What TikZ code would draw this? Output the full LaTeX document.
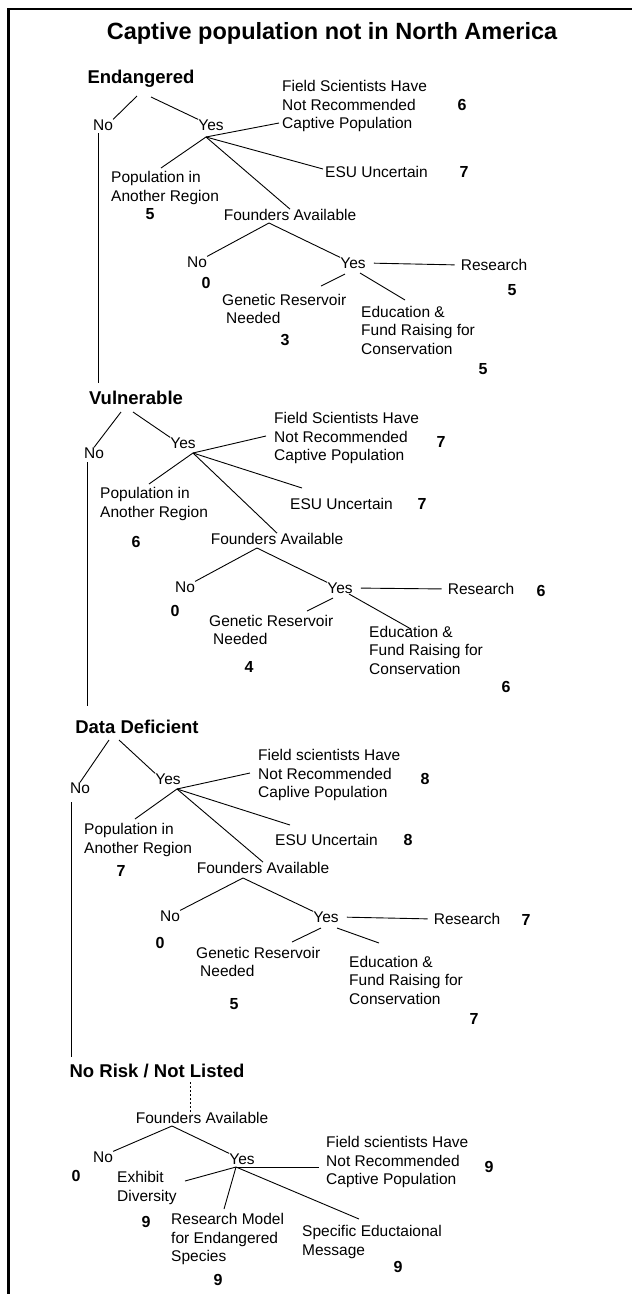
\documentclass[tikz,border=0pt]{standalone}
\usepackage{fontspec}
\setmainfont{Liberation Sans}
\begin{document}
\begin{tikzpicture}[x=1pt,y=-1pt,
  lbl/.style={inner sep=0pt, font=\fontsize{15.5}{18.5}\selectfont, align=left},
  hd/.style={inner sep=0pt, font=\fontsize{18.5}{20}\selectfont\bfseries},
  num/.style={inner sep=0pt, font=\fontsize{16}{18}\selectfont\bfseries},
  ttl/.style={inner sep=0pt, font=\fontsize{23.5}{26}\selectfont\bfseries},
  ln/.style={line width=0.9pt},
  frm/.style={line width=2.6pt}]
\useasboundingbox (0,0) rectangle (632,1294);
\draw[frm] (8.5,1294) -- (8.5,9) -- (632,9);
\node[ttl] (title) at (332,33) {Captive population not in North America};

% ---------------- Endangered
\node[hd] (endg) at (141,79) {Endangered};
\node[lbl] (no1) at (103,125) {No};
\node[lbl] (yes1) at (211,125) {Yes};
\coordinate (endgL) at (137,96);
\coordinate (endgR) at (151,97);
\draw[ln] (endgL) -- (no1.north east);
\draw[ln] (endgR) -- (yes1.north west);
\coordinate (v1a) at (98,133);
\coordinate (v1b) at (98,383);
\draw[ln] (v1a) -- (v1b);
\coordinate (hub1) at (206,137);
\node[lbl,anchor=west] (fsh1) at (282,106) {Field Scientists Have\\Not Recommended\\Captive Population};
\node[num] (n1a) at (462,105) {6};
\coordinate (fsh1e) at (279,123);
\draw[ln] (hub1) -- (fsh1e);
\node[lbl,anchor=west] (esu1) at (325,172) {ESU Uncertain};
\node[num] (n1b) at (464,172) {7};
\coordinate (esu1e) at (323,169);
\draw[ln] (hub1) -- (esu1e);
\node[lbl,anchor=west] (pop1) at (111,188) {Population in\\Another Region};
\node[num] (n1c) at (150,214) {5};
\coordinate (pop1e) at (161,168);
\draw[ln] (hub1) -- (pop1e);
\node[lbl] (fa1) at (290,215) {Founders Available};
\draw[ln] (hub1) -- (fa1.north);
\coordinate (fa1b) at (269,223);
\node[lbl] (no2) at (197,262) {No};
\node[num] (n1d) at (206,283) {0};
\node[lbl] (yes2) at (353,263) {Yes};
\draw[ln] (fa1b) -- (no2.north east);
\draw[ln] (fa1b) -- (yes2.north west);
\node[lbl] (res1) at (494,265) {Research};
\node[num] (n1e) at (512,290) {5};
\draw[ln,shorten <=8pt,shorten >=6pt] (yes2.east) -- (res1.west);
\node[lbl,anchor=west] (gen1) at (222,309) {Genetic Reservoir\\\hspace*{4pt}Needed};
\node[num] (n1f) at (285,340) {3};
\coordinate (y2g) at (345,274);
\coordinate (gen1e) at (321,286);
\draw[ln] (y2g) -- (gen1e);
\node[lbl,anchor=west] (edu1) at (361,330) {Education \&\\Fund Raising for\\Conservation};
\node[num] (n1g) at (483,369) {5};
\coordinate (y2e) at (360,273);
\coordinate (edu1e) at (405,300);
\draw[ln] (y2e) -- (edu1e);

% ---------------- Vulnerable
\node[hd] (vul) at (136,398) {Vulnerable};
\node[lbl] (no3) at (94,453) {No};
\node[lbl] (yes3) at (183,443) {Yes};
\coordinate (vulL) at (121,412);
\coordinate (vulR) at (133,412);
\draw[ln] (vulL) -- (no3.north);
\draw[ln] (vulR) -- (yes3.north west);
\coordinate (v2a) at (87,462);
\coordinate (v2b) at (87,706);
\draw[ln] (v2a) -- (v2b);
\coordinate (hub3) at (193,453);
\node[lbl,anchor=west] (fsh3) at (274,438) {Field Scientists Have\\Not Recommended\\Captive Population};
\node[num] (n2a) at (441,442) {7};
\coordinate (fsh3e) at (266,436);
\draw[ln] (hub3) -- (fsh3e);
\node[lbl,anchor=west] (pop3) at (100,504) {Population in\\Another Region};
\node[num] (n2b) at (136,542) {6};
\coordinate (pop3e) at (149,484);
\draw[ln] (hub3) -- (pop3e);
\node[lbl,anchor=west] (esu3) at (290,504) {ESU Uncertain};
\node[num] (n2c) at (422,504) {7};
\coordinate (esu3e) at (302,488);
\draw[ln] (hub3) -- (esu3e);
\node[lbl] (fa3) at (277,539) {Founders Available};
\draw[ln] (hub3) -- (fa3.north);
\coordinate (fa3b) at (257,548);
\node[lbl] (no4) at (185,587) {No};
\node[num] (n2d) at (175,611) {0};
\node[lbl] (yes4) at (340,588) {Yes};
\draw[ln] (fa3b) -- (no4.north east);
\draw[ln] (fa3b) -- (yes4.north west);
\node[lbl] (res3) at (481,589) {Research};
\node[num] (n2e) at (541,591) {6};
\draw[ln,shorten <=8pt,shorten >=6pt] (yes4.east) -- (res3.west);
\node[lbl,anchor=west] (gen3) at (209,630) {Genetic Reservoir\\\hspace*{4pt}Needed};
\node[num] (n2f) at (249,667) {4};
\coordinate (y4g) at (333,598);
\coordinate (gen3e) at (307,611);
\draw[ln] (y4g) -- (gen3e);
\node[lbl,anchor=west] (edu3) at (369,650) {Education \&\\Fund Raising for\\Conservation};
\node[num] (n2g) at (506,687) {6};
\coordinate (y4e) at (349,594);
\coordinate (edu3e) at (411,629);
\draw[ln] (y4e) -- (edu3e);

% ---------------- Data Deficient
\node[hd] (dd) at (137,727) {Data Deficient};
\node[lbl] (no5) at (80,788) {No};
\node[lbl] (yes5) at (168,779) {Yes};
\coordinate (ddL) at (109,740);
\coordinate (ddR) at (119,740);
\draw[ln] (ddL) -- (no5.north);
\draw[ln] (ddR) -- (yes5.north west);
\coordinate (v3a) at (71,802);
\coordinate (v3b) at (71,1057);
\draw[ln] (v3a) -- (v3b);
\coordinate (hub5) at (177,789);
\node[lbl,anchor=west] (fsh5) at (258,775) {Field scientists Have\\Not Recommended\\Caplive Population};
\node[num] (n3a) at (425,779) {8};
\coordinate (fsh5e) at (250,773);
\draw[ln] (hub5) -- (fsh5e);
\node[lbl,anchor=west] (pop5) at (84,840) {Population in\\Another Region};
\node[num] (n3b) at (121,871) {7};
\coordinate (pop5e) at (135,819);
\draw[ln] (hub5) -- (pop5e);
\node[lbl,anchor=west] (esu5) at (275,840) {ESU Uncertain};
\node[num] (n3c) at (408,840) {8};
\coordinate (esu5e) at (290,825);
\draw[ln] (hub5) -- (esu5e);
\node[lbl] (fa5) at (263,868) {Founders Available};
\draw[ln] (hub5) -- (fa5.north);
\coordinate (fa5b) at (243,878);
\node[lbl] (no6) at (170,916) {No};
\node[num] (n3d) at (160,943) {0};
\node[lbl] (yes6) at (326,917) {Yes};
\draw[ln] (fa5b) -- (no6.north east);
\draw[ln] (fa5b) -- (yes6.north west);
\node[lbl] (res5) at (467,919) {Research};
\node[num] (n3e) at (526,920) {7};
\draw[ln,shorten <=8pt,shorten >=6pt] (yes6.east) -- (res5.west);
\node[lbl,anchor=west] (gen5) at (196,962) {Genetic Reservoir\\\hspace*{4pt}Needed};
\node[num] (n3f) at (234,1004) {5};
\coordinate (y6g) at (321,928);
\coordinate (gen5e) at (292,942);
\draw[ln] (y6g) -- (gen5e);
\node[lbl,anchor=west] (edu5) at (349,980) {Education \&\\Fund Raising for\\Conservation};
\node[num] (n3g) at (474,1019) {7};
\coordinate (y6e) at (337,928);
\coordinate (edu5e) at (379,943);
\draw[ln] (y6e) -- (edu5e);

% ---------------- No Risk / Not Listed
\node[hd] (nr) at (157,1071) {No Risk / Not Listed};
\node[lbl] (fa7) at (202,1118) {Founders Available};
\draw[line width=0.8pt,dash pattern=on 2pt off 2pt] (nr.south -| 190,0) ++(0,4) -- (fa7.north -| 190,0);
\coordinate (fa7b) at (172,1126);
\node[lbl] (no7) at (103,1157) {No};
\node[num] (n4a) at (76,1176) {0};
\node[lbl] (yes7) at (242,1159) {Yes};
\draw[ln] (fa7b) -- (no7.north east);
\draw[ln] (fa7b) -- (yes7.north west);
\coordinate (hub7) at (236,1167);
\node[lbl,anchor=west] (fsh7) at (326,1162) {Field scientists Have\\Not Recommended\\Captive Population};
\node[num] (n4b) at (489,1167) {9};
\coordinate (fsh7e) at (319,1167);
\draw[ln] (hub7) -- (fsh7e);
\node[lbl,anchor=west] (exh) at (117,1188) {Exhibit\\Diversity};
\node[num] (n4c) at (146,1222) {9};
\coordinate (exhe) at (185,1181);
\draw[ln] (hub7) -- (exhe);
\node[lbl,anchor=west] (rm) at (171,1239) {Research Model\\for Endangered\\Species};
\node[num] (n4d) at (218,1280) {9};
\coordinate (rme) at (224,1209);
\draw[ln] (hub7) -- (rme);
\node[lbl,anchor=west] (sem) at (302,1242) {Specific Eductaional\\Message};
\node[num] (n4e) at (398,1267) {9};
\coordinate (seme) at (359,1219);
\draw[ln] (hub7) -- (seme);
\end{tikzpicture}
\end{document}
